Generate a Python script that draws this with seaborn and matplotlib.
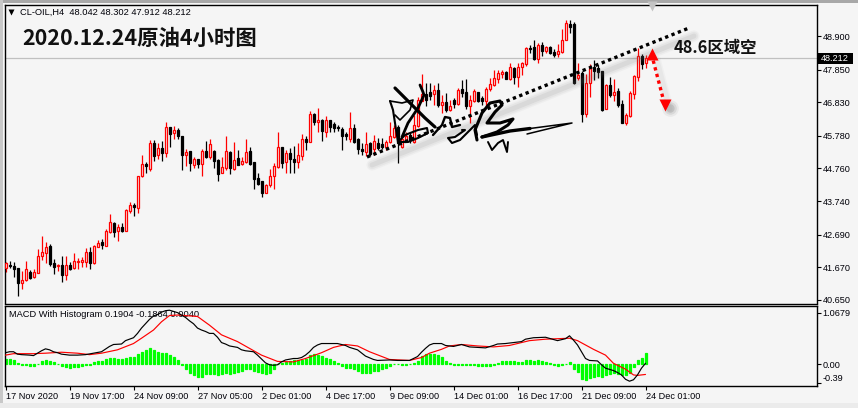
import matplotlib
matplotlib.use('Agg')
import matplotlib.pyplot as plt
import numpy as np
import pandas as pd
import seaborn as sns

# CL-OIL H4 velas
open_ = [41.64,41.73,41.71,41.64,41.19,41.26,41.53,41.38,41.50,42.04,
         42.13,42.33,41.80,41.70,41.73,41.42,41.73,41.65,41.84,41.85,
         41.85,42.14,41.81,42.32,42.46,42.35,42.79,43.06,42.80,42.92,
         42.82,43.44,43.61,43.53,44.51,44.91,44.74,45.55,45.18,45.39,
         45.25,46.06,45.88,45.95,45.78,45.19,45.31,44.88,45.06,44.89,
         45.31,45.12,45.31,45.02,44.63,44.79,45.26,44.75,45.09,44.91,
         44.97,45.31,44.95,44.46,44.36,44.00,44.23,44.51,44.82,45.43,
         44.95,45.24,45.06,44.97,45.16,45.68,45.60,46.46,46.21,46.27,
         45.91,46.27,46.14,46.07,46.00,45.83,45.67,46.01,45.67,45.38,
         45.28,45.57,45.38,45.57,45.53,45.43,45.59,45.75,46.07,45.44,
         45.65,45.81,45.60,46.09,46.88,47.08,47.14,47.09,47.21,46.73,
         46.83,46.59,46.90,46.76,47.23,47.15,46.72,46.87,47.14,46.95,
         46.88,47.23,47.36,47.56,47.71,47.78,47.57,47.90,47.63,47.94,
         48.03,48.51,48.56,48.18,48.61,48.43,48.55,48.41,48.35,48.39,
         48.79,49.27,49.27,47.58,47.73,46.46,47.42,47.94,47.89,47.81,
         46.63,47.37,47.06,47.19,46.78,46.19,46.41,47.10,47.63,48.27,48.042]
high = [41.85,41.88,41.85,41.64,41.57,41.87,41.59,41.61,42.24,42.65,
        42.47,42.39,41.92,41.78,42.04,42.01,41.85,42.12,41.95,42.00,
        42.29,42.32,42.37,42.52,42.56,42.87,43.34,43.10,43.02,43.07,
        43.50,43.72,43.69,44.51,45.18,44.95,45.65,45.65,45.55,45.63,
        46.21,46.07,46.09,46.02,45.78,45.37,45.31,45.11,45.06,45.36,
        45.61,45.67,45.34,45.07,45.13,45.78,45.32,45.58,45.34,45.13,
        45.67,45.44,44.95,44.61,44.36,44.27,44.74,44.94,45.90,45.43,
        45.34,45.39,45.46,45.55,45.83,45.79,46.55,46.48,46.65,46.30,
        46.41,46.27,46.22,46.12,46.05,45.91,46.53,46.15,45.70,45.55,
        45.90,45.60,45.81,45.70,45.70,45.65,46.22,46.12,46.12,45.81,
        45.91,45.91,46.43,47.00,47.71,47.42,47.42,47.37,47.42,47.06,
        47.11,46.90,46.95,47.29,47.53,47.55,47.05,47.23,47.16,47.03,
        47.30,47.58,47.84,47.84,47.84,47.82,48.07,47.94,48.05,48.10,
        48.57,48.62,48.78,48.67,48.72,48.60,48.59,48.48,48.65,49.12,
        49.40,49.40,49.35,48.07,47.82,47.71,48.02,48.15,47.99,47.82,
        47.40,47.61,47.55,47.26,46.90,46.48,47.19,47.68,48.51,48.34,48.302]
low = [41.53,41.64,41.36,40.79,41.00,41.25,41.30,41.35,41.50,41.90,
       41.80,41.71,41.46,41.57,41.22,41.27,41.59,41.63,41.61,41.69,
       41.67,41.63,41.78,42.30,42.25,42.34,42.75,42.63,42.50,42.79,
       42.81,43.36,43.29,43.36,44.50,44.63,44.69,45.00,45.06,44.98,
       45.13,45.44,45.67,45.68,44.71,44.85,44.69,44.77,44.77,44.53,
       45.09,45.05,44.77,44.38,44.61,44.71,44.59,44.71,44.87,44.87,
       44.92,44.87,44.13,44.23,43.88,43.98,44.19,44.13,44.77,44.77,
       44.63,44.63,44.63,44.77,45.02,45.34,45.60,46.12,45.91,45.63,
       45.73,45.91,45.91,45.94,45.34,45.65,45.60,45.57,45.21,45.18,
       45.15,45.15,45.18,45.34,45.37,45.34,45.55,45.70,44.94,45.39,
       45.60,45.55,45.55,46.07,46.86,46.71,46.90,46.73,46.69,46.50,
       46.53,46.57,46.64,46.74,47.00,46.61,46.17,46.85,46.84,46.74,
       46.71,47.19,47.34,47.42,47.58,47.55,47.53,47.40,47.32,47.68,
       47.96,48.36,48.15,48.05,48.27,48.38,48.34,48.25,48.25,48.38,
       48.78,48.98,47.40,47.53,46.22,46.38,47.00,47.53,47.58,46.57,
       46.61,46.98,46.87,46.69,46.17,46.13,46.36,46.92,47.50,47.87,47.912]
close = [41.80,41.71,41.63,41.19,41.27,41.61,41.35,41.52,42.04,42.14,
         42.30,41.78,41.69,41.73,41.44,41.73,41.63,41.86,41.86,41.89,
         42.14,41.82,42.33,42.42,42.38,42.81,43.08,42.79,42.92,42.81,
         43.46,43.61,43.57,44.51,44.90,44.83,45.55,45.16,45.39,45.25,
         46.05,45.85,45.96,45.77,45.19,45.27,44.94,45.05,44.90,45.31,
         45.11,45.51,45.00,44.60,44.80,45.30,44.78,45.02,44.88,44.98,
         45.26,44.91,44.43,44.28,44.00,44.24,44.51,44.83,45.42,44.94,
         45.23,45.06,44.96,45.18,45.68,45.60,46.45,46.22,46.27,45.93,
         46.27,46.07,46.02,46.01,45.78,45.78,46.01,45.58,45.38,45.32,
         45.53,45.21,45.61,45.41,45.44,45.58,45.79,46.01,45.55,45.67,
         45.78,45.65,46.11,46.90,47.08,46.90,47.04,47.20,46.73,46.83,
         46.59,46.70,46.77,47.20,47.13,46.71,46.90,47.18,46.87,46.87,
         47.23,47.40,47.58,47.73,47.78,47.57,47.92,47.61,47.94,48.05,
         48.51,48.48,48.17,48.61,48.43,48.55,48.38,48.31,48.42,48.79,
         49.32,49.19,47.44,47.68,46.46,47.42,47.89,47.82,47.79,46.59,
         47.37,47.06,47.14,46.73,46.19,46.43,47.12,47.65,48.27,48.02,48.212]

# MACD: histograma por vela, lineas muestreadas
hist_vals = [0.10,0.11,0.09,0.02,-0.01,-0.02,-0.03,-0.04,0.01,0.06,
             0.08,0.06,0.04,0.01,-0.03,-0.05,-0.07,-0.06,-0.05,-0.03,
             -0.01,-0.01,0.05,0.06,0.07,0.12,0.14,0.14,0.12,0.12,
             0.13,0.15,0.15,0.21,0.26,0.30,0.34,0.30,0.26,0.23,
             0.23,0.19,0.15,0.09,-0.01,-0.10,-0.17,-0.23,-0.26,-0.26,
             -0.21,-0.20,-0.20,-0.22,-0.21,-0.19,-0.20,-0.17,-0.15,-0.14,
             -0.10,-0.09,-0.14,-0.16,-0.19,-0.21,-0.17,-0.10,0.01,0.03,
             0.05,0.06,0.08,0.08,0.09,0.12,0.20,0.21,0.20,0.18,
             0.14,0.10,0.07,0.03,-0.03,-0.07,-0.08,-0.10,-0.14,-0.17,
             -0.17,-0.17,-0.13,-0.13,-0.10,-0.08,-0.03,0.01,0.01,-0.01,
             -0.01,0.01,0.02,0.07,0.17,0.21,0.22,0.21,0.19,0.15,
             0.07,0.03,-0.01,-0.01,-0.01,-0.01,-0.02,-0.02,-0.03,-0.03,
             -0.04,-0.03,-0.01,0.03,0.07,0.07,0.07,0.06,0.04,0.05,
             0.08,0.08,0.07,0.08,0.06,0.05,0.03,-0.01,-0.03,-0.01,
             0.01,0.04,-0.10,-0.15,-0.31,-0.32,-0.28,-0.26,-0.24,-0.27,
             -0.23,-0.20,-0.19,-0.21,-0.23,-0.23,-0.19,-0.05,0.09,0.14,0.235]
macd_idx = [0,1,2,3,4,6,7,8,9,10,11,12,13,14,16,18,20,22,24,26,27,29,30,32,33,34,35,36,37,38,39,40,41,43,
            45,46,47,48,49,50,51,52,53,54,55,56,58,59,60,62,63,64,65,66,67,68,69,70,72,73,74,75,76,77,78,79,
            81,83,85,86,88,90,92,93,96,98,100,101,102,103,104,105,106,107,109,110,112,114,116,118,120,122,
            123,125,127,129,130,132,135,138,140,141,142,143,144,145,146,148,149,150,152,153,154,155,156,157,158,159,160]
macd_vals = [0.24,0.26,0.26,0.21,0.20,0.19,0.18,0.23,0.28,0.32,0.30,0.26,0.24,0.21,0.19,0.19,0.20,0.23,0.26,0.37,0.41,0.42,0.49,0.55,0.64,0.75,0.84,0.93,1.00,1.03,1.08,1.11,1.12,1.07,
             0.97,0.90,0.84,0.75,0.71,0.68,0.64,0.64,0.56,0.45,0.42,0.38,0.35,0.30,0.28,0.26,0.19,0.11,0.03,-0.01,-0.02,-0.01,0.05,0.09,0.12,0.12,0.14,0.19,0.26,0.35,0.40,0.43,
             0.43,0.43,0.39,0.35,0.30,0.17,0.10,0.08,0.09,0.08,0.08,0.08,0.12,0.16,0.25,0.33,0.40,0.43,0.43,0.39,0.37,0.41,0.36,0.35,0.34,0.39,
             0.42,0.43,0.45,0.47,0.52,0.55,0.56,0.49,0.53,0.59,0.50,0.40,0.26,0.12,0.08,0.07,-0.01,-0.08,-0.13,-0.17,-0.22,-0.31,-0.35,-0.32,-0.22,-0.08,0.02]
signal_idx = [0,2,7,10,14,18,21,24,28,32,34,37,39,41,43,48,51,54,58,61,64,68,72,75,79,82,85,88,91,96,101,104,106,
              109,111,114,118,122,126,131,135,141,143,147,150,152,155,157,158,160]
signal_vals = [0.19,0.22,0.22,0.23,0.25,0.23,0.20,0.23,0.30,0.43,0.54,0.71,0.88,1.01,1.02,0.99,0.81,0.61,0.47,0.33,0.19,0.06,0.05,0.12,0.24,0.35,0.41,0.38,0.26,0.10,0.08,0.14,0.23,
               0.31,0.38,0.41,0.38,0.36,0.39,0.49,0.52,0.54,0.49,0.31,0.19,0.02,-0.10,-0.22,-0.23,-0.21]

price_ticks = [48.900,47.850,46.830,45.780,44.760,43.740,42.690,41.670,40.650]
date_ticks = [0,16,32,48,64,80,96,112,128,144,160]
date_labels = ['17 Nov 2020','19 Nov 17:00','24 Nov 09:00','27 Nov 05:00','2 Dec 01:00','4 Dec 17:00',
               '9 Dec 09:00','14 Dec 01:00','16 Dec 17:00','21 Dec 09:00','24 Dec 01:00']
last_price = 48.212
macd_ticks = [1.0679,0.00,-0.39]
macd_labels = ['1.0679','0.00','-0.39']

W, H = 858, 408
BG = '#F5F5F5'
TXT = '#000008'
CJK = ['Noto Sans CJK SC', 'DejaVu Sans']
PX = 0.9  # trazo de velas, algo mas de 1 px

sns.set_theme(style='white')
plt.rcParams['font.family'] = ['Liberation Sans', 'DejaVu Sans']

df = pd.DataFrame({'i': range(len(open_)), 'o': open_, 'h': high, 'l': low, 'c': close})
up = df[df['c'] >= df['o']]
down = df[df['c'] < df['o']]


def panel(x0, y0, x1, y1):
    return fig.add_axes([x0/W, 1-y1/H, (x1-x0)/W, (y1-y0)/H], facecolor=BG)


fig = plt.figure(figsize=(W/100, H/100), dpi=100, facecolor=BG)

# franja de ventana
over_bg = fig.add_axes([0, 0, 1, 1], zorder=0)
over_bg.set_xlim(0, W); over_bg.set_ylim(H, 0); over_bg.axis('off')
over_bg.axhspan(0, 3, color='#A8A8A8', lw=0)
over_bg.axvspan(0, 3, color='#C8C8C8', lw=0)
over_bg.axhspan(403, 408, color='#EBEBEB', lw=0)

ax = panel(4.5, 4.5, 816.5, 303.5)
ax2 = panel(4.5, 305.5, 816.5, 385.5)
ax.set_zorder(1); ax2.set_zorder(1)

# velas
ax.axhline(last_price, color='#C0C0C0', lw=0.9, zorder=1)
ax.vlines(down['i'], down['l'], down['h'], color='black', lw=PX, zorder=2)
ax.vlines(up['i'], up['l'], up['h'], color='#FF0000', lw=PX, zorder=2)
for r in ax.bar(down['i'], down['o']-down['c'], bottom=down['c'], width=0.5, color='black',
                edgecolor='black', linewidth=PX, zorder=3):
    r.set_snap(True)
for r in ax.bar(up['i'], up['c']-up['o'], bottom=up['o'], width=0.5, color=BG,
                edgecolor='#FF0000', linewidth=PX, zorder=3):
    r.set_snap(True)
ax.set_xlim(-0.25, 202.75)
ax.set_ylim(48.9-(303.5-36)/32, 48.9+(36-4.5)/32)
ax.yaxis.tick_right()
ax.set_yticks(price_ticks)
ax.set_yticklabels([f'{p:.3f}' for p in price_ticks], fontsize=6.6, color=TXT)
ax.set_xticks([])
ax.tick_params(axis='y', length=3, width=0.8, color='black', pad=1.2, right=True)

# MACD
sns.barplot(x=list(range(len(hist_vals))), y=hist_vals, native_scale=True, color='#00FF00', saturation=1,
            width=0.5, edgecolor='#00FF00', linewidth=PX, ax=ax2, zorder=2)
for r in ax2.patches:
    r.set_snap(True)
sns.lineplot(x=signal_idx, y=signal_vals, color='#FF0000', lw=0.85, ax=ax2, zorder=3)
sns.lineplot(x=macd_idx, y=macd_vals, color='black', lw=0.85, ax=ax2, zorder=4)
ax2.set_xlim(-0.25, 202.75)
ax2.set_ylim((364.3-385.5)/48.3, (364.3-305.5)/48.3)
ax2.yaxis.tick_right()
ax2.set_yticks(macd_ticks)
ax2.set_yticklabels(macd_labels, fontsize=6.6, color=TXT)
ax2.get_yticklabels()[2].set_va('bottom')
ax2.set_xticks(date_ticks)
ax2.set_xticklabels(date_labels, fontsize=6.6, color=TXT, ha='left')
ax2.tick_params(axis='x', length=3, width=0.8, color='black', pad=1.4, bottom=True)
ax2.tick_params(axis='y', length=3, width=0.8, color='black', pad=1.2, right=True)
ax2.text(0.0058, 0.885, 'MACD With Histogram 0.1904 -0.1864 0.0040', transform=ax2.transAxes,
         fontsize=6.7, color=TXT, va='center', zorder=1)

for a in (ax, ax2):
    for s in a.spines.values():
        s.set_color('black'); s.set_linewidth(1.0)

# capa de anotaciones, en pixeles de la imagen
ov = fig.add_axes([0, 0, 1, 1], zorder=5, facecolor='none')
ov.set_xlim(0, W); ov.set_ylim(H, 0); ov.axis('off')

ov.plot([11], [12], marker='v', ms=5, color='black', mec='none')
ov.text(20, 12.5, 'CL-OIL,H4  48.042 48.302 47.912 48.212', fontsize=6.7, color=TXT, va='center')
ov.text(22, 38, '2020.12.24原油4小时图', fontsize=15.4, fontweight='bold', color='#111111',
        va='center', family=CJK)
ov.text(674, 47.5, '48.6区域空', fontsize=11.8, fontweight='bold', color='#111111', va='center', family=CJK)
ov.plot([651.5], [6], marker='v', ms=6.5, color='#C4C4C4', mec='none')

# caja de precio actual
ov.fill_between([817, 853], 53, 63.5, color='black', lw=0)
ov.text(835, 58.5, '48.212', fontsize=6.6, color='white', ha='center', va='center')

# linea de tendencia punteada con sombra
tx, ty = [367, 689], [157, 28]
for lw, al in [(8, 0.05), (6, 0.07), (3.5, 0.10)]:
    ov.plot([tx[0]+5, tx[1]+5], [ty[0]+8, ty[1]+8], color='#707070', lw=lw, alpha=al, solid_capstyle='round')
ov.plot(tx, ty, color='black', lw=2.4, ls=(0, (1, 1.05)), dash_capstyle='butt')

# flecha roja con sombra
ax_x, ax_y = [651.5, 664.5], [54, 104]
for lw, al in [(6, 0.04), (4, 0.06)]:
    ov.plot([ax_x[0]+5, ax_x[1]+5], [ax_y[0]+5, ax_y[1]+5], color='#707070', lw=lw, alpha=al)
for ms, al in [(12, 0.08), (9, 0.12), (6, 0.16)]:
    ov.plot([670], [108], marker='o', ms=ms, color='#606060', alpha=al, mec='none')
ov.plot(ax_x, ax_y, color='#FF0000', lw=2.4, ls=(0, (1, 1.05)), dash_capstyle='butt')
ov.plot([652], [53.5], marker='^', ms=9, color='#FF0000', mec='none')
ov.plot([664.5], [105], marker='v', ms=8, color='#FF0000', mec='none')

# firma (marca de agua), trazos a mano
strokes = [
    ([395,405,415,425,435], [88,98,108,118,127], 2.3),
    ([420,423,424,418,408,402], [85,92,95,108,123,137], 2.0),
    ([390,393,395,398], [101,110,123,142], 1.5),
    ([390,402,413,410,400,395], [101,103,100,110,120,115], 1.2),
    ([398,405,418,427,428,418,408,398], [142,135,130,128,133,138,142,142], 1.5),
    ([433,442,445,450,452,460], [135,125,117,118,127,125], 1.7),
    ([462,465,455,448,452,460,468,475,477], [130,130,137,138,143,140,132,125,135], 1.5),
    ([477,475,482,490,500,502,495,487,500,513,508,497,482], [140,130,113,103,101,105,112,123,123,119,125,132,137], 2.2),
    ([482,510,530], [137,131,128.5], 2.4),
    ([530,572,527], [128.5,123,134], 1.1),
    ([488,492,498,503,507,508], [142,150,143,140,152,142], 1.4),
]
for xs, ys, lw in strokes:
    ov.plot(xs, ys, color='black', lw=lw, solid_capstyle='round', solid_joinstyle='round')

fig.savefig('out.png', dpi=100, facecolor=BG)
